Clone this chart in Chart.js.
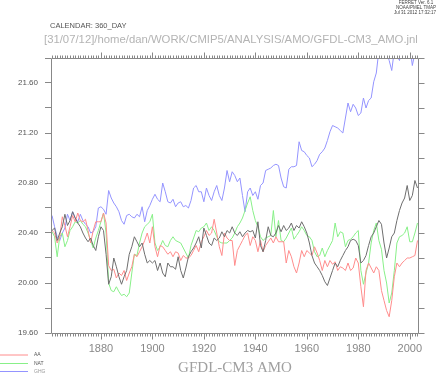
<!DOCTYPE html>
<html>
<head>
<meta charset="utf-8">
<script src="https://cdn.jsdelivr.net/npm/chart.js@4.4.1/dist/chart.umd.min.js"></script>
<style>
  html, body { margin: 0; padding: 0; background: #fff; }
  canvas { display: block; }
</style>
</head>
<body>
<canvas id="amo-chart" width="440" height="375"></canvas>
<script>
// GFDL-CM3 AMO, annual values 1861-2003

const firstYear = 1861;

const obs = [
  20.42, 20.44, 20.34, 20.40, 20.45, 20.55, 20.46, 20.50, 20.57, 20.52,
  20.48, 20.45, 20.40, 20.36, 20.33, 20.36, 20.30, 20.26, 20.37, 20.45,
  20.42, 20.23, 19.99, 20.05, 20.20, 20.13, 20.05, 19.99, 20.05, 20.10,
  20.23, 20.29, 20.37, 20.33, 20.29, 20.32, 20.23, 20.16, 20.18, 20.16,
  20.18, 20.10, 20.16, 20.08, 20.05, 20.16, 20.13, 20.13, 20.11, 20.21,
  20.10, 20.04, 20.12, 20.21, 20.25, 20.28, 20.32, 20.37, 20.28, 20.44,
  20.38, 20.32, 20.30, 20.36, 20.34, 20.36, 20.41, 20.37, 20.42, 20.40,
  20.45, 20.40, 20.38, 20.41, 20.37, 20.40, 20.42, 20.41, 20.42, 20.36,
  20.49, 20.30, 20.25, 20.34, 20.45, 20.38, 20.37, 20.40, 20.46, 20.41,
  20.46, 20.42, 20.44, 20.48, 20.42, 20.46, 20.44, 20.49, 20.45, 20.40,
  20.32, 20.22, 20.16, 20.13, 20.10, 20.06, 20.01, 19.98, 20.04, 20.10,
  20.16, 20.13, 20.18, 20.22, 20.26, 20.29, 20.34, 20.35, 20.34, 20.30,
  20.16, 20.18, 20.22, 20.30, 20.37, 20.40, 20.45, 20.50, 20.47, 20.32,
  20.20, 20.28, 20.37, 20.40, 20.50, 20.58, 20.64, 20.68, 20.78, 20.66,
  20.70, 20.82, 20.76
];

const aa = [
  20.42, 20.40, 20.32, 20.37, 20.53, 20.46, 20.37, 20.45, 20.54, 20.49,
  20.56, 20.50, 20.49, 20.51, 20.42, 20.32, 20.42, 20.49, 20.49, 20.49,
  20.56, 20.48, 20.14, 20.10, 20.11, 20.04, 20.08, 20.06, 20.10, 20.02,
  20.08, 20.13, 20.23, 20.21, 20.25, 20.29, 20.34, 20.40, 20.32, 20.45,
  20.29, 20.21, 20.30, 20.29, 20.26, 20.23, 20.25, 20.21, 20.25, 20.24,
  20.18, 20.22, 20.20, 20.20, 20.22, 20.26, 20.30, 20.25, 20.33, 20.37,
  20.42, 20.38, 20.40, 20.51, 20.40, 20.29, 20.22, 20.40, 20.36, 20.34,
  20.34, 20.14, 20.26, 20.30, 20.34, 20.38, 20.40, 20.30, 20.37, 20.34,
  20.25, 20.34, 20.25, 20.30, 20.33, 20.36, 20.32, 20.37, 20.33, 20.33,
  20.33, 20.16, 20.26, 20.21, 20.13, 20.08, 20.16, 20.26, 20.21, 20.26,
  20.24, 20.22, 20.29, 20.24, 20.18, 20.10, 20.18, 20.13, 20.18, 20.15,
  20.17, 20.10, 20.13, 20.12, 20.10, 20.16, 20.10, 20.12, 20.20, 20.16,
  19.97, 19.81, 20.10, 20.16, 20.12, 20.08, 20.13, 20.10, 19.94, 19.86,
  19.78, 19.73, 19.86, 20.05, 20.16, 20.13, 20.16, 20.18, 20.20, 20.20,
  20.21, 20.22, 20.34
];

const nat = [
  20.41, 20.37, 20.21, 20.37, 20.40, 20.29, 20.34, 20.42, 20.45, 20.49,
  20.48, 20.50, 20.47, 20.45, 20.40, 20.34, 20.28, 20.36, 20.42, 20.49,
  20.56, 20.40, 20.00, 19.94, 19.93, 19.97, 19.93, 19.90, 19.91, 19.89,
  19.92, 20.08, 20.23, 20.22, 20.32, 20.40, 20.45, 20.47, 20.49, 20.55,
  20.32, 20.26, 20.29, 20.34, 20.30, 20.29, 20.34, 20.37, 20.34, 20.33,
  20.32, 20.28, 20.24, 20.20, 20.30, 20.36, 20.42, 20.41, 20.44, 20.45,
  20.48, 20.42, 20.45, 20.42, 20.37, 20.33, 20.32, 20.32, 20.32, 20.34,
  20.36, 20.40, 20.45, 20.48, 20.52, 20.58, 20.64, 20.69, 20.58, 20.50,
  20.45, 20.37, 20.34, 20.36, 20.37, 20.38, 20.58, 20.37, 20.50, 20.34,
  20.33, 20.36, 20.40, 20.44, 20.35, 20.38, 20.41, 20.45, 20.42, 20.38,
  20.37, 20.34, 20.25, 20.21, 20.22, 20.28, 20.21, 20.26, 20.30, 20.34,
  20.48, 20.37, 20.41, 20.40, 20.29, 20.34, 20.35, 20.37, 20.40, 20.42,
  20.10, 19.99, 20.08, 20.16, 20.32, 20.42, 20.48, 20.34, 20.27, 20.10,
  20.00, 19.84, 19.92, 20.10, 20.32, 20.37, 20.38, 20.40, 20.45, 20.33,
  20.33, 20.40, 20.48
];

const ghg = [
  20.54, 20.45, 20.37, 20.34, 20.40, 20.44, 20.55, 20.50, 20.57, 20.52,
  20.49, 20.55, 20.50, 20.47, 20.45, 20.40, 20.41, 20.45, 20.60, 20.61,
  20.59, 20.55, 20.74, 20.68, 20.64, 20.61, 20.57, 20.50, 20.47, 20.54,
  20.55, 20.53, 20.52, 20.55, 20.53, 20.61, 20.49, 20.58, 20.62, 20.67,
  20.71, 20.67, 20.65, 20.80, 20.73, 20.65, 20.64, 20.67, 20.61, 20.64,
  20.65, 20.61, 20.62, 20.60, 20.66, 20.76, 20.78, 20.73, 20.73, 20.65,
  20.76, 20.70, 20.66, 20.73, 20.78, 20.70, 20.66, 20.76, 20.90, 20.81,
  20.89, 20.86, 20.81, 20.84, 20.70, 20.57, 20.73, 20.76, 20.70, 20.73,
  20.67, 20.78, 20.80, 20.90, 20.91, 20.92, 20.94, 20.95, 20.94, 20.84,
  20.77, 20.76, 20.91, 20.93, 20.93, 20.94, 21.13, 21.06, 21.05, 21.02,
  21.00, 20.93, 20.95, 20.98, 21.03, 21.05, 21.08, 21.14, 21.21, 21.26,
  21.25, 21.24, 21.22, 21.20, 21.32, 21.44, 21.37, 21.43, 21.40, 21.34,
  21.36, 21.48, 21.40, 21.46, 21.48, 21.61, 21.68, 21.86, 21.90, 21.88,
  21.85, 21.78, 21.70, 21.86, 21.82, 21.78, 21.88, 21.92, 21.86, 21.90,
  21.74, 21.84, 21.86
];

const years = obs.map((v, i) => firstYear + i);
const xTickLabels = ['1880', '1900', '1920', '1940', '1960', '1980', '2000'];
const yTickLabels = ['19.60', '20.00', '20.40', '20.80', '21.20', '21.60'];

const toPoints = vals => vals.map((v, i) => ({x: years[i], y: v}));

function line(label, vals, color) {
  return {
    label: label,
    data: toPoints(vals),
    borderColor: color,
    borderWidth: 1,
    pointRadius: 0,
    fill: false,
    tension: 0
  };
}

// ferret style frame: box, minor/major ticks, header texts and the small legend
const ferretFrame = {
  id: 'ferretFrame',
  afterDraw(chart) {
    const ctx = chart.ctx;
    const a = chart.chartArea;
    const x = chart.scales.x;
    const y = chart.scales.y;
    ctx.save();
    ctx.strokeStyle = '#888';
    ctx.lineWidth = 1;
    ctx.beginPath();
    ctx.rect(Math.round(a.left) + 0.5, Math.round(a.top) + 0.5,
      Math.round(a.right - a.left), Math.round(a.bottom - a.top));
    for (let yr = years[0]; yr <= years[years.length - 1]; yr++) {
      const px = Math.round(x.getPixelForValue(yr)) + 0.5;
      const len = xTickLabels.includes(String(yr)) ? 6 : 3;
      ctx.moveTo(px, Math.round(a.bottom) + 0.5);
      ctx.lineTo(px, Math.round(a.bottom) + 0.5 + len);
      ctx.moveTo(px, Math.round(a.top) + 0.5);
      ctx.lineTo(px, Math.round(a.top) + 0.5 - len);
    }
    y.ticks.forEach(t => {
      const py = Math.round(y.getPixelForValue(t.value)) + 0.5;
      ctx.moveTo(Math.round(a.right) + 0.5, py);
      ctx.lineTo(Math.round(a.right) + 6.5, py);
    });
    ctx.stroke();

    // header
    ctx.fillStyle = '#555';
    ctx.textBaseline = 'middle';
    ctx.textAlign = 'left';
    ctx.font = '7.5px "Liberation Sans", Arial, sans-serif';
    ctx.fillText('CALENDAR: 360_DAY', 50, 26);

    const path = '[31/07/12]/home/dan/WORK/CMIP5/ANALYSIS/AMO/GFDL-CM3_AMO.jnl';
    ctx.font = '12px "Liberation Sans", Arial, sans-serif';
    const w = ctx.measureText(path).width;
    ctx.font = (12 * 374 / w).toFixed(2) + 'px "Liberation Sans", Arial, sans-serif';
    ctx.fillStyle = '#b4b4b4';
    ctx.fillText(path, 44, 40);

    ctx.fillStyle = '#444';
    ctx.textAlign = 'center';
    ctx.font = '4.5px "Liberation Sans", Arial, sans-serif';
    ctx.fillText('FERRET Ver. 6.1', 416, 2.5);
    ctx.fillText('NOAA/PMEL TMAP', 416, 7.5);
    ctx.fillText('Jul 31 2012 17:32:17', 415, 12.5);

    // bottom title
    ctx.fillStyle = '#a0a0a0';
    ctx.font = '15px "Liberation Serif", "DejaVu Serif", serif';
    ctx.fillText('GFDL-CM3 AMO', 235, 368);

    // legend, model runs only
    const rows = [355, 363.5, 371.5];
    chart.data.datasets.slice(1).forEach((ds, i) => {
      ctx.strokeStyle = ds.borderColor;
      ctx.beginPath();
      ctx.moveTo(0, rows[i]);
      ctx.lineTo(28, rows[i]);
      ctx.stroke();
      ctx.fillStyle = i === 2 ? '#999' : '#555';
      ctx.textAlign = 'left';
      ctx.font = '5px "Liberation Sans", Arial, sans-serif';
      ctx.fillText(ds.label, 34, rows[i]);
    });
    ctx.restore();
  }
};

const config = {
  type: 'line',
  data: {
    datasets: [
      line('OBS', obs, '#6e6e6e'),
      line('AA', aa, '#ff8c8c'),
      line('NAT', nat, '#88f088'),
      line('GHG', ghg, '#9494ff')
    ]
  },
  options: {
    responsive: false,
    animation: false,
    layout: {
      padding: {left: 0, right: 22, top: 58, bottom: 0}
    },
    plugins: {
      legend: {display: false},
      tooltip: {enabled: false}
    },
    scales: {
      x: {
        type: 'linear',
        min: 1860.6,
        max: 2003.2,
        afterFit: s => { s.height = 42; },
        grid: {display: false, drawTicks: false},
        border: {display: false},
        ticks: {
          stepSize: 20,
          includeBounds: false,
          padding: 9,
          color: '#888',
          font: {family: '"Liberation Sans", Arial, sans-serif', size: 11},
          maxRotation: 0,
          callback: v => xTickLabels.includes(String(v)) ? String(v) : ''
        }
      },
      y: {
        min: 19.6,
        max: 21.8,
        afterFit: s => { s.width = 51; },
        grid: {drawOnChartArea: false, tickLength: 6, color: '#888'},
        border: {display: false},
        ticks: {
          stepSize: 0.2,
          padding: 7,
          color: '#555',
          font: {family: '"Liberation Sans", Arial, sans-serif', size: 8},
          callback: v => yTickLabels.includes(v.toFixed(2)) ? v.toFixed(2) : ''
        }
      }
    }
  },
  plugins: [ferretFrame]
};

const amoChart = new Chart(document.getElementById('amo-chart'), config);
</script>
</body>
</html>
